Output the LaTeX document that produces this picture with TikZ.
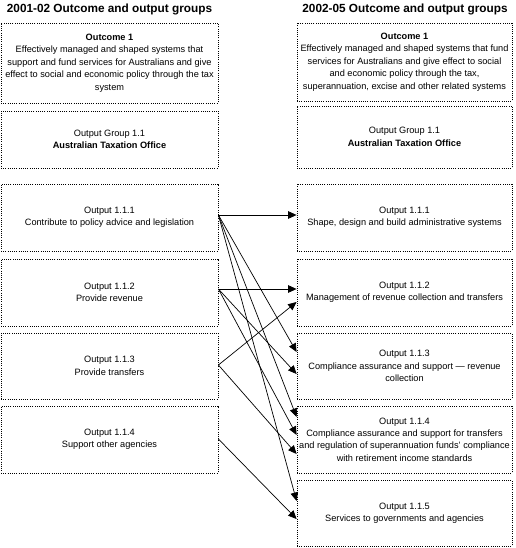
\documentclass[tikz,border=0pt]{standalone}
\usepackage{fontspec}
\setmainfont{Liberation Sans}
\usetikzlibrary{arrows.meta,calc}
\begin{document}
\begin{tikzpicture}[x=1pt,y=-1pt,
  box/.style={draw, line width=0.8pt, dash pattern=on 1pt off 1.2pt, align=center,
    font=\fontsize{9.2}{12.4}\selectfont, inner sep=0pt},
  lbox/.style={box, minimum width=217pt},
  rbox/.style={box, minimum width=215pt},
  head/.style={font=\fontsize{11.8}{13}\selectfont\bfseries},
  link/.style={line width=0.7pt, -{Triangle[length=8.5pt,width=7.5pt]}}]
\useasboundingbox (0,0) rectangle (515,548);

\node[head] (H1) at (109.5,9.5) {2001-02 Outcome and output groups};
\node[head] (H2) at (405,9.5) {2002-05 Outcome and output groups};

\node[lbox, minimum height=80pt] (LO) at (109.5,63) {\textbf{Outcome 1}\\Effectively managed and shaped systems that\\support and fund services for Australians and give\\effect to social and economic policy through the tax\\system};
\node[rbox, minimum height=78pt] (RO) at (404.5,62) {\textbf{Outcome 1}\\Effectively managed and shaped systems that fund\\services for Australians and give effect to social\\and economic policy through the tax,\\superannuation, excise and other related systems};

\node[lbox, minimum height=57pt] (LG) at (109.5,139.5) {Output Group 1.1\\\textbf{Australian Taxation Office}};
\node[rbox, minimum height=62pt] (RG) at (404.5,137) {Output Group 1.1\\\textbf{Australian Taxation Office}};

\node[lbox, minimum height=67pt] (L1) at (109.5,217.5) {Output 1.1.1\\Contribute to policy advice and legislation};
\node[lbox, minimum height=67pt] (L2) at (109.5,292.5) {Output 1.1.2\\Provide revenue};
\node[lbox, minimum height=66pt] (L3) at (109.5,366) {Output 1.1.3\\Provide transfers};
\node[lbox, minimum height=67pt] (L4) at (109.5,439.5) {Output 1.1.4\\Support other agencies};

\node[rbox, minimum height=67pt] (R1) at (404.5,217.5) {Output 1.1.1\\Shape, design and build administrative systems};
\node[rbox, minimum height=67pt] (R2) at (404.5,292.5) {Output 1.1.2\\Management of revenue collection and transfers};
\node[rbox, minimum height=66pt] (R3) at (404.5,366) {Output 1.1.3\\Compliance assurance and support — revenue\\collection};
\node[rbox, minimum height=67pt] (R4) at (404.5,439.5) {Output 1.1.4\\Compliance assurance and support for transfers\\and regulation of superannuation funds' compliance\\with retirement income standards};
\node[rbox, minimum height=66pt] (R5) at (404.5,513) {Output 1.1.5\\Services to governments and agencies};

\coordinate (l1) at ($(L1.east)+(0,-2.5)$);
\coordinate (l2) at ($(L2.east)+(0,-3.5)$);
\coordinate (l3) at ($(L3.east)+(0,-1)$);
\coordinate (l4) at ($(L4.east)+(0,-0.5)$);

\draw[link] (l1) -- ($(R1.west)+(0,-2.5)$);
\draw[link] (l1) -- ($(R3.west)+(0,-14)$);
\draw[link] (l1) -- ($(R4.west)+(0,-22.5)$);
\draw[link] (l1) -- ($(R5.west)+(0,-12)$);
\draw[link] (l2) -- ($(R2.west)+(0,-3.5)$);
\draw[link] (l2) -- ($(R3.west)+(0,8)$);
\draw[link] (l2) -- ($(R4.west)+(0,-4.5)$);
\draw[link] (l3) -- ($(R2.west)+(0,9.5)$);
\draw[link] (l3) -- ($(R4.west)+(0,14.5)$);
\draw[link] (l4) -- ($(R5.west)+(0,6)$);
\end{tikzpicture}
\end{document}
